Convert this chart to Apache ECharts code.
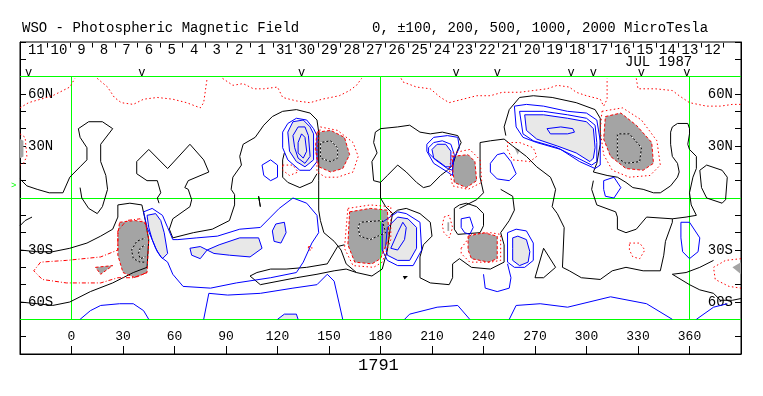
<!DOCTYPE html>
<html>
<head>
<meta charset="utf-8">
<title>WSO Photospheric Magnetic Field 1791</title>
<script src="https://cdn.jsdelivr.net/npm/echarts@6/dist/echarts.min.js"></script>
<style>
html,body{margin:0;padding:0;background:#fff;}
#chart{width:763px;height:396px;}
</style>
</head>
<body>
<div id="chart"></div>
<script>
// all contours are [carrington longitude, latitude]

// calendar strip along the top
const dayLabels = ['11','10','9','8','7','6','5','4','3','2','1','31','30','29','28','27','26','25','24','23','22','21','20','19','18','17','16','15','14','13','12'];
const firstDayEdge = -13.9;   // lon of the first day boundary
const dayWidth = 13.13;       // deg per day
const obsMarks = [-25, 41, 134, 224, 248, 291, 304, 332, 358.5];
const lonTicks = [0, 30, 60, 90, 120, 150, 180, 210, 240, 270, 300, 330, 360];
const latLabels = {60: '60N', 30: '30N', '-30': '30S', '-60': '60S'};

// -100 line around the north pole (dotted red)
const polarA = [[-30,52],[-25,55],[-11,59],[-1,64],[2,69]];
const polarB = [[15,69],[21,64],[25,58],[29,55],[36,54],[42,57],[50,58],[59,57],[67,55],[75,52],[77,55],[78,62],[79,69]];
const polarC = [[88,69],[94,65],[100,66],[106,63],[112,63],[120,64],[123,58],[131,56],[139,55],[146,57],[151,58],[156,59],[162,62],[166,65],[169,69]];
const polarD = [[192,69],[193,67],[201,64],[209,63],[215,58],[220,55],[228,57],[236,59],[244,59],[251,61],[261,61],[269,62],[277,63],[283,65],[290,64],[294,61],[300,59],[308,57],[310,53],[312,57],[312,69]];
const polarE = [[329,69],[330,63],[340,63],[350,62],[354,59],[360,55],[370,53],[378,53],[385,54],[390,54]];

// zero lines (black)
const zeroA = [[-30,11],[-26,7],[-20,5],[-13,3],[-5,3],[-1,12],[5,18],[9,22],[9,29],[5,35],[4,40],[10,44],[18,44],[24,40],[17,31],[17,21],[20,13],[21,5],[18,-5],[15,-9],[10,-6],[6,0],[5,6]];
const zeroB = [[51,-3],[50,0],[52,3],[50,10],[44,10],[38,14],[38,21],[45,28],[56,17],[69,31],[77,22],[80,15],[68,10],[66,6],[68,5],[70,-1],[69,-5],[59,-12],[57,-18],[59,-23],[71,-20],[82,-18],[92,-13],[95,-4],[95,2],[93,5],[94,12],[99,19],[98,24],[100,31],[107,35],[112,42],[117,47],[123,50],[131,51],[139,49],[143,45],[144,38],[144,16],[144,10],[144,-7],[145,-13],[147,-20],[153,-25],[157,-30],[160,-38],[166,-43],[175,-45],[181,-41],[184,-30],[186,-15],[187,-9],[183,-5],[180,0],[180,9]];
const zeroP2 = [[177,38],[176,32],[178,26],[175,21],[176,10],[180,9],[184,13],[190,19],[195,15],[201,9],[205,6],[209,7],[215,13],[219,16],[222,19],[225,28],[227,32],[225,36],[216,38],[209,37],[203,38],[197,42],[190,41],[180,40]];
const zeroD = [[124,26],[123,22],[123,12],[126,9],[133,6],[140,9],[143,14]];
const zeroE = [[226,-6],[236,-1],[240,3],[238,12],[238,32],[244,33],[252,34],[257,30],[265,24],[271,18],[279,12],[282,5],[280,-5],[283,-9],[287,-17],[286,-40],[290,-42],[297,-46],[308,-47],[315,-42],[323,-40],[333,-42],[343,-42],[345,-33],[346,-25],[350,-14],[350,-12]];
const zeroG = [[253,36],[252,41],[255,51],[261,58],[269,59],[280,58],[294,55],[305,51],[308,46],[308,31],[306,20],[304,15],[312,13],[318,12],[323,9],[327,6],[333,5],[339,3],[343,3],[349,7],[353,12],[354,15],[353,20],[350,24],[349,31],[349,38],[350,41],[353,43],[359,43],[360,40],[360,37],[359,31],[360,28],[364,24],[364,17],[362,12],[360,3],[361,-4],[364,-10],[358,-11],[350,-12],[335,-11],[329,-18],[323,-20],[318,-18],[318,-11],[317,-8],[306,-4],[303,5],[304,10]];
const zeroH = [[159,-27],[155,-28],[149,-38],[137,-40],[125,-41],[116,-41],[108,-43],[104,-45],[110,-50],[131,-46],[143,-44],[153,-42],[160,-41],[166,-43]];
const zeroI = [[186,-10],[190,-7],[195,-6],[203,-9],[209,-14],[210,-22],[205,-27],[203,-34],[203,-46],[209,-49],[220,-50],[222,-46],[222,-38],[226,-35],[233,-40],[244,-41],[252,-37],[252,-27],[250,-20],[255,-13],[258,-7],[257,1],[250,5]];
const zeroJ = [[226,-4],[223,-6],[223,-18],[225,-21],[238,-20],[240,-16],[240,-9],[236,-5],[230,-3]];
const zeroK = [[275,-29],[270,-46],[275,-46],[282,-40]];
const zeroL = [[374,-36],[366,-40],[358,-43],[350,-44],[360,-50],[366,-53],[374,-55],[378,-59],[385,-59],[390,-58]];
const zeroM = [[366,16],[370,19],[379,16],[382,12],[381,-1],[379,-3],[370,0],[367,6]];
const zeroN = [[-30,-16],[-27,-13],[-23,-11]];
const zeroO = [[-30,-60],[-20,-61],[-11,-62],[-1,-60],[11,-54],[24,-49],[36,-43],[44,-40],[45,-24],[43,-13],[41,-4],[34,-3],[27,-4],[27,-11],[24,-18],[17,-22],[9,-26],[-1,-29],[-11,-31],[-20,-31],[-30,-30]];
const zeroTiny = [[109,1],[110,1],[110,-5],[109,-5]];
const zeroDot = [[193,-45],[196,-45],[194,-47]];

// positive field (blue), cores filled light grey
const p1Outer = [[123,38],[126,43],[131,46],[137,45],[141,40],[143,36],[143,21],[139,16],[133,16],[126,22],[123,29]];
const p1Mid = [[126,38],[129,44],[135,45],[139,41],[141,37],[141,22],[136,18],[131,21],[127,27]];
const p1Core = [[129,36],[132,41],[136,41],[138,36],[139,24],[136,20],[132,23],[130,29]];
const p1Inner = [[132,32],[134,37],[136,35],[137,27],[135,23],[132,26]];
const pSmallA = [[111,19],[116,22],[120,19],[120,12],[116,10],[112,13]];
const p2Outer = [[207,31],[211,35],[219,36],[225,35],[226,29],[222,21],[222,13],[219,15],[211,20],[207,27]];
const p2Mid = [[208,29],[211,32],[216,33],[221,31],[223,25],[222,16],[219,17],[212,22],[208,26]];
const p2Core = [[210,28],[213,31],[218,31],[221,27],[221,18],[218,18],[214,21],[211,23]];
const p3Outer = [[258,53],[265,54],[275,53],[289,50],[300,49],[306,45],[308,33],[308,19],[305,17],[296,21],[285,28],[271,32],[263,35],[259,41]];
const p3Mid = [[261,50],[275,50],[289,48],[300,46],[305,42],[306,32],[306,21],[303,19],[295,23],[283,29],[269,33],[263,37]];
const p3Core = [[264,48],[275,48],[289,46],[300,44],[304,40],[305,29],[304,23],[302,21],[294,26],[283,30],[271,34],[265,39]];
const p3Inner = [[277,40],[285,41],[292,40],[293,38],[289,37],[279,37]];
const pSmallB = [[244,20],[248,25],[252,26],[256,21],[259,14],[255,10],[248,11],[244,15]];
const pSmallC = [[310,10],[316,12],[320,6],[316,0],[311,1],[310,5]];
const pSouthBig = [[42,-8],[47,-6],[53,-10],[56,-17],[59,-24],[62,-24],[73,-23],[85,-22],[98,-18],[110,-17],[116,-11],[121,-6],[129,0],[137,-3],[143,-10],[144,-20],[140,-26],[135,-37],[131,-43],[116,-46],[96,-49],[81,-52],[65,-51],[59,-44],[56,-37],[52,-34],[49,-29],[47,-24],[44,-17]];
const p5Core = [[44,-10],[49,-9],[52,-13],[54,-20],[56,-32],[53,-35],[50,-31],[47,-24],[45,-17]];
const p6LobeA = [[69,-29],[75,-28],[79,-30],[75,-35],[70,-33]];
const p6LobeB = [[79,-30],[86,-27],[98,-23],[109,-23],[111,-29],[104,-34],[92,-33],[83,-32]];
const p7Core = [[119,-15],[124,-14],[125,-20],[122,-26],[118,-25],[117,-19]];
const p4Outer = [[181,-14],[190,-8],[195,-9],[203,-14],[204,-30],[199,-39],[190,-39],[184,-36],[181,-30]];
const p4Core = [[184,-17],[190,-11],[196,-12],[201,-17],[201,-29],[197,-36],[190,-36],[184,-33],[183,-28]];
const p4Inner = [[186,-29],[190,-20],[193,-14],[195,-17],[194,-24],[190,-30]];
const p9Loop = [[227,-12],[232,-11],[234,-17],[232,-21],[229,-20],[227,-17]];
const p8Outer = [[254,-20],[259,-18],[265,-19],[269,-26],[269,-36],[264,-40],[258,-40],[254,-37]];
const p8Core = [[257,-23],[260,-22],[265,-24],[267,-31],[266,-37],[261,-39],[257,-36],[257,-29]];
const p8Tail = [[240,-44],[241,-52],[248,-54],[255,-52],[256,-46],[254,-38]];
const p10Loop = [[355,-14],[360,-14],[366,-23],[365,-31],[360,-35],[356,-31],[355,-23]];
const southA = [[5,-70],[11,-65],[17,-62],[28,-61],[36,-61],[42,-65],[45,-70]];
const southB = [[77,-70],[80,-55],[91,-56],[110,-55],[129,-52],[143,-50],[149,-44],[153,-48],[158,-70]];
const southBump = [[120,-70],[124,-67],[131,-67],[132,-70]];
const southC = [[194,-70],[197,-67],[213,-63],[225,-62],[232,-70]];
const southD = [[255,-70],[259,-62],[273,-61],[289,-63],[314,-57],[335,-61],[350,-70]];
const southE = [[364,-70],[374,-63],[382,-61]];

// negative field (red), strong cores filled dark grey
const n1Outer = [[145,41],[155,39],[164,32],[167,24],[164,15],[155,12],[148,12],[143,15],[143,28]];
const n1Core = [[143,38],[151,39],[159,35],[162,25],[158,17],[151,15],[144,18],[142,28]];
const n1Inner = [[145,32],[151,33],[155,29],[155,23],[151,21],[145,23],[145,28]];
const nSmallA = [[123,19],[129,19],[132,15],[127,13],[123,16]];
const n2Outer = [[222,26],[232,28],[238,22],[239,9],[231,5],[222,7],[220,17]];
const n2Core = [[222,24],[231,25],[235,21],[236,10],[230,6],[223,9],[222,17]];
const n3Outer = [[309,50],[321,52],[332,45],[341,33],[343,19],[337,13],[325,12],[315,16],[310,25],[308,39]];
const n3Core = [[311,47],[320,49],[329,42],[338,32],[339,20],[333,16],[323,17],[314,24],[310,34]];
const n3Inner = [[318,37],[325,37],[332,29],[331,21],[323,20],[318,23],[318,32]];
const nSmallB = [[254,32],[261,32],[269,29],[271,24],[267,21],[257,22],[254,28]];
const nSmallBCore = [[258,29],[261,28],[260,25]];
const n4Outer = [[44,-16],[40,-12],[32,-13],[27,-19],[27,-30],[17,-34],[-3,-36],[-18,-37],[-22,-42],[-17,-47],[-3,-49],[17,-49],[27,-46],[36,-46],[44,-43]];
const n4Core = [[28,-14],[37,-13],[43,-14],[45,-24],[44,-43],[37,-46],[30,-43],[27,-33],[27,-21]];
const n4ArcA = [[43,-23],[38,-25],[35,-30],[36,-35],[40,-37],[43,-37]];
const n4ArcB = [[43,-27],[40,-29],[39,-32],[40,-35],[43,-34]];
const n4Tri = [[14,-40],[24,-39],[17,-44]];
const n5Outer = [[161,-6],[174,-4],[186,-5],[186,-24],[181,-37],[176,-40],[164,-39],[159,-29]];
const n5Core = [[162,-8],[174,-6],[184,-7],[185,-23],[180,-35],[175,-38],[165,-37],[161,-27]];
const n5Inner = [[168,-14],[181,-13],[183,-20],[174,-24],[168,-22],[167,-17]];
const n6Outer = [[227,-29],[233,-21],[244,-20],[250,-21],[250,-36],[244,-37],[232,-37],[227,-32]];
const n6Core = [[231,-22],[240,-20],[248,-22],[248,-35],[243,-37],[233,-35],[231,-30]];
const n7Loop = [[217,-11],[220,-10],[222,-17],[220,-23],[217,-20],[216,-16]];
const n7Core = [[219,-14],[220,-14],[220,-19],[219,-19]];
const n8Loop = [[325,-26],[331,-26],[334,-30],[331,-35],[327,-34],[325,-30]];
const n9Line = [[390,-35],[381,-36],[374,-40],[375,-47],[383,-51],[390,-52]];
const n9Core = [[385,-40],[390,-37],[390,-44]];
const nEdgeLine = [[-30,37],[-27,35],[-26,24],[-28,20],[-30,19]];
const nEdgeCore = [[-30,34],[-28,33],[-28,24],[-30,23]];
const nTiny = [[138,-28],[140,-28],[140,-30],[138,-30]];

// grid lines drawn in green on the map
const greenLon = [0, 180, 360];
const greenLat = [70, 0, -70];

const BLUE = '#0000ff', RED = '#ff0000', BLACK = '#000000', GREEN = '#00ff00';
const LIGHT = '#e8e8e8', DARK = '#a4a4a4';
const DOT = [1.5, 2.5], DASH = [3, 2], DASHDOT = [4, 2, 1, 2];
const MONO = '"Liberation Mono", "DejaVu Sans Mono", monospace';

const loop = a => a.concat([a[0]]);
const crisp = v => Math.round(v - 0.5) + 0.5;
const series = [];

function line(data, color, dash, z) {
  series.push({
    type: 'line', data: data, symbol: 'none', silent: true, animation: false,
    lineStyle: {color: color, width: 1, type: dash || 'solid'}, z: z || 3
  });
}
function fill(data, color) {
  series.push({
    type: 'custom', silent: true, animation: false, z: 1, data: [data[0]],
    renderItem: (p, api) => ({
      type: 'polygon',
      shape: {points: data.map(d => api.coord(d))},
      style: {fill: color}
    })
  });
}

// fills first
[p1Mid, p2Core, p3Core, p5Core, p6LobeA, p6LobeB, p7Core, p4Core, p8Core].forEach(a => fill(a, LIGHT));
fill(southBump, LIGHT);
[n1Core, n2Core, n3Core, n4Core, n5Core, n6Core, nEdgeCore, n9Core, n4Tri, nSmallBCore, n7Core].forEach(a => fill(a, DARK));

// green grid, snapped to whole pixels
series.push({
  type: 'custom', silent: true, animation: false, z: 2, data: greenLon.map(x => [x, 0]),
  renderItem: (p, api) => {
    const a = api.coord([api.value(0), 70]), b = api.coord([api.value(0), -70]);
    const x = crisp(a[0]);
    return {type: 'line', shape: {x1: x, y1: crisp(a[1]), x2: x, y2: crisp(b[1])}, style: {stroke: GREEN, lineWidth: 1}};
  }
});
series.push({
  type: 'custom', silent: true, animation: false, z: 2, data: greenLat.map(y => [0, y]),
  renderItem: (p, api) => {
    const a = api.coord([-30, api.value(1)]), b = api.coord([390, api.value(1)]);
    const y = crisp(a[1]);
    return {type: 'line', shape: {x1: a[0], y1: y, x2: b[0], y2: y}, style: {stroke: GREEN, lineWidth: 1}};
  }
});

// polar line
[polarA, polarB, polarC, polarD, polarE].forEach(a => line(a, RED, DOT));

// zero lines
[zeroA, zeroB, zeroD, zeroE, zeroG, zeroH, zeroI, zeroL, zeroN, zeroO].forEach(a => line(a, BLACK));
[zeroP2, zeroJ, zeroK, zeroM, zeroTiny].forEach(a => line(loop(a), BLACK));
fill(zeroDot, BLACK);

// positive contours
[p1Outer, p1Mid, p1Core, p1Inner, pSmallA, p2Outer, p2Mid, p2Core, p3Outer, p3Mid, p3Core, p3Inner,
 pSmallB, pSmallC, pSouthBig, p5Core, p6LobeA, p6LobeB, p7Core, p4Outer, p4Core, p4Inner,
 p9Loop, p8Outer, p8Core, p10Loop].forEach(a => line(loop(a), BLUE));
[p8Tail, southA, southB, southBump, southC, southD, southE].forEach(a => line(a, BLUE));

// negative contours
[n1Outer, n2Outer, n3Outer, n5Outer, n6Outer, n7Loop, n8Loop, nSmallA, nSmallB, nTiny].forEach(a => line(loop(a), RED, DOT));
[n1Core, n2Core, n3Core, n4Core, n5Core, n6Core, n4Tri].forEach(a => line(loop(a), RED, DASH));
line(n4Outer, RED, DASHDOT);
[n9Line, nEdgeLine].forEach(a => line(a, RED, DOT));
[n1Inner, n3Inner, n5Inner].forEach(a => {
  line(loop(a), BLACK, 'solid', 4);
  line(loop(a), '#ffffff', [2, 2], 5);
});
[n4ArcA, n4ArcB].forEach(a => {
  line(a, BLACK, 'solid', 4);
  line(a, '#ffffff', [2, 2], 5);
});

// calendar strip: day boundaries and day numbers
const dayEdges = dayLabels.map((d, i) => [firstDayEdge + dayWidth * i, 90]);
series.push({
  type: 'custom', silent: true, animation: false, z: 6, data: dayEdges,
  renderItem: (p, api) => {
    const a = api.coord([api.value(0), 89.5]);
    const b = api.coord([api.value(0), 86.8]);
    const x = crisp(a[0]);
    return {type: 'line', shape: {x1: x, y1: a[1], x2: x, y2: b[1]}, style: {stroke: BLACK, lineWidth: 1}};
  }
});
series.push({
  type: 'custom', silent: true, animation: false, z: 6,
  data: dayLabels.map((d, i) => [firstDayEdge + dayWidth * (i - 0.5), 85.3]),
  renderItem: (p, api) => {
    const pt = api.coord([api.value(0), api.value(1)]);
    return {type: 'text', x: pt[0], y: pt[1],
      style: {text: dayLabels[p.dataIndex], textAlign: 'center', textVerticalAlign: 'middle', font: '14px ' + MONO, fill: BLACK}};
  }
});
series.push({
  type: 'custom', silent: true, animation: false, z: 6,
  data: obsMarks.map(x => [x, 72.5]),
  renderItem: (p, api) => {
    const pt = api.coord([api.value(0), api.value(1)]);
    return {type: 'text', x: pt[0], y: pt[1],
      style: {text: 'v', textAlign: 'center', textVerticalAlign: 'middle', font: '12px ' + MONO, fill: BLACK}};
  }
});

const chart = echarts.init(document.getElementById('chart'), null, {renderer: 'canvas'});
chart.setOption({
  animation: false,
  backgroundColor: '#ffffff',
  grid: {left: 20, right: 22, top: 42, bottom: 42, show: true, borderColor: BLACK, borderWidth: 1},
  xAxis: {
    type: 'value', min: -30, max: 390, interval: 30,
    axisLine: {show: true, onZero: false, lineStyle: {color: BLACK}},
    axisTick: {show: true, inside: true, length: 8, lineStyle: {color: BLACK}},
    splitLine: {show: false},
    axisLabel: {
      inside: true, margin: 11, color: BLACK, fontFamily: MONO, fontSize: 13,
      formatter: v => lonTicks.indexOf(v) >= 0 ? String(v) : ''
    }
  },
  yAxis: [0, 1].map(i => ({
    type: 'value', min: -90, max: 90, interval: 10, position: i ? 'right' : 'left',
    axisLine: {show: true, onZero: false, lineStyle: {color: BLACK}},
    axisTick: {show: true, inside: true, length: 6, lineStyle: {color: BLACK}},
    splitLine: {show: false},
    axisLabel: {
      inside: true, margin: 8, color: BLACK, fontFamily: MONO, fontSize: 14,
      formatter: v => latLabels[v] || ''
    }
  })),
  graphic: [
    {type: 'text', left: 22, top: 21, style: {text: 'WSO - Photospheric Magnetic Field', font: '14px ' + MONO, fill: BLACK}},
    {type: 'text', left: 372, top: 21, style: {text: '0, \u00b1100, 200, 500, 1000, 2000 MicroTesla', font: '14px ' + MONO, fill: BLACK}},
    {type: 'text', left: 625, top: 55, style: {text: 'JUL 1987', font: '14px ' + MONO, fill: BLACK}},
    {type: 'text', left: 11, top: 181, style: {text: '>', font: '9px ' + MONO, fill: GREEN}},
    {type: 'text', left: 358, top: 357, style: {text: '1791', font: '17px ' + MONO, fill: BLACK}}
  ],
  series: series
});
</script>
</body>
</html>
